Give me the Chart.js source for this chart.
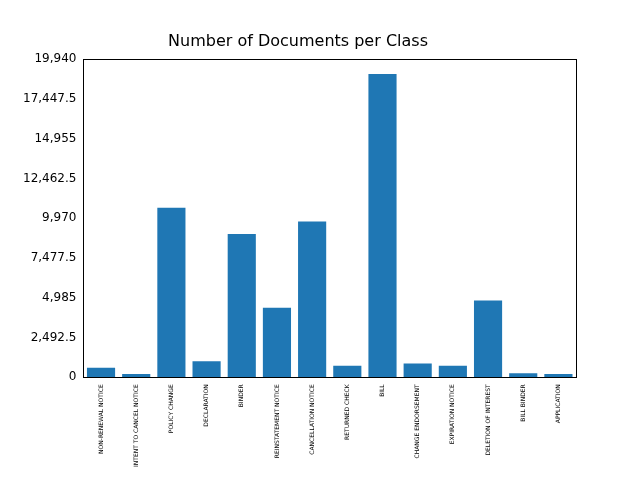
<!DOCTYPE html>
<html>
<head>
<meta charset="utf-8">
<script src="https://cdn.jsdelivr.net/npm/chart.js@4"></script>
<style>
html, body { margin: 0; padding: 0; background: #fff; }
</style>
</head>
<body>
<canvas id="chart" width="640" height="480"></canvas>
<script>
const classes = ['NON-RENEWAL NOTICE', 'INTENT TO CANCEL NOTICE', 'POLICY CHANGE', 'DECLARATION', 'BINDER',
	'REINSTATEMENT NOTICE', 'CANCELLATION NOTICE', 'RETURNED CHECK', 'BILL', 'CHANGE ENDORSEMENT',
	'EXPIRATION NOTICE', 'DELETION OF INTEREST', 'BILL BINDER', 'APPLICATION']
const counts = [600, 200, 10630, 1000, 8980, 4360, 9770, 730, 19020, 860, 730, 4820, 260, 200]

const frame = {
	id: 'frame',
	afterDraw(chart) {
		const { ctx, chartArea: a } = chart
		ctx.save()
		ctx.strokeStyle = '#000'
		ctx.lineWidth = 1
		ctx.strokeRect(Math.round(a.left) + 0.5, Math.round(a.top) + 0.5, Math.round(a.right - a.left), Math.round(a.bottom - a.top))
		ctx.restore()
	},
}

Chart.defaults.font.family = 'DejaVu Sans'
Chart.defaults.color = '#000'

new Chart(document.getElementById('chart'), {
	type: 'bar',
	data: {
		labels: classes,
		datasets: [{ data: counts, backgroundColor: '#1f77b4', barPercentage: 0.8, categoryPercentage: 1 }],
	},
	options: {
		responsive: false,
		animation: false,
		devicePixelRatio: 1,
		layout: { padding: { left: 20, right: 64, top: 0, bottom: 10 } },
		plugins: {
			legend: { display: false },
			tooltip: { enabled: false },
			title: { display: true, text: 'Number of Documents per Class', font: { size: 16, weight: 'normal' }, padding: { top: 32, bottom: 8 } },
		},
		scales: {
			x: {
				grid: { display: false, drawTicks: true, tickLength: 4, tickColor: '#000' },
				border: { display: false },
				ticks: { minRotation: 90, maxRotation: 90, autoSkip: false, font: { size: 6 }, padding: 3 },
			},
			y: {
				min: 0,
				max: 19940,
				grid: { display: false, drawTicks: true, tickLength: 4, tickColor: '#000' },
				border: { display: false },
				ticks: { stepSize: 2500, font: { size: 12 }, padding: 3 },
			},
		},
	},
	plugins: [frame],
})
</script>
</body>
</html>
